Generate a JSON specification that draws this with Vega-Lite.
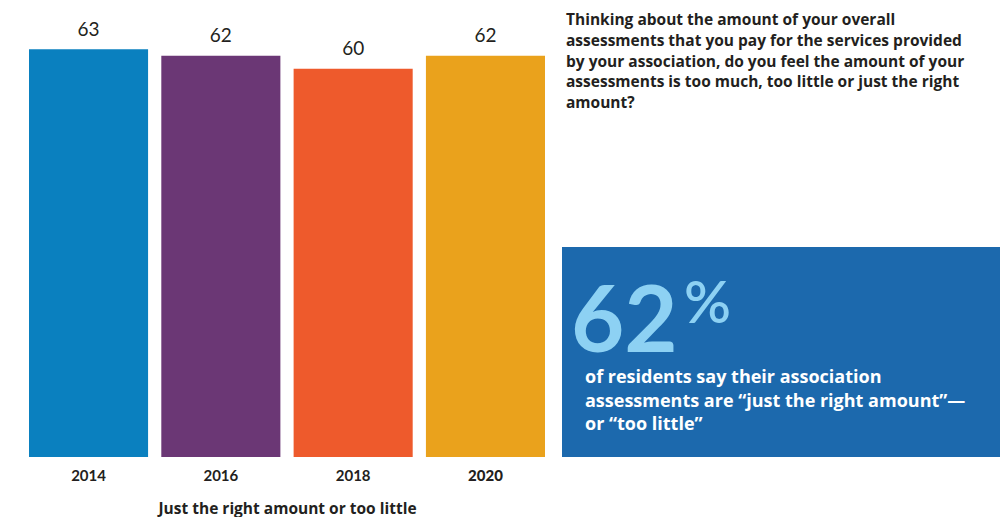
{
  "$schema": "https://vega.github.io/schema/vega-lite/v6.json",
  "background": "white",
  "padding": {"left": 29, "top": 4, "right": 0, "bottom": 0},
  "config": {"view": {"stroke": null}, "font": "Lato"},
  "data": {"values": [
    {"year": "2014", "value": 63},
    {"year": "2016", "value": 62},
    {"year": "2018", "value": 60},
    {"year": "2020", "value": 62}
  ]},
  "bounds": "flush",
  "spacing": 17,
  "hconcat": [
    {
      "width": 516,
      "height": 453,
      "layer": [
        {
          "mark": {"type": "bar"},
          "encoding": {
            "x": {
              "field": "year", "type": "ordinal",
              "scale": {"paddingInner": 0.1, "paddingOuter": 0},
              "axis": {
                "title": "Just the right amount or too little",
                "labelAngle": 0, "domain": false, "ticks": false,
                "labelFont": "Lato", "labelFontSize": 15,
                "labelFontWeight": {"condition": {"test": "datum.value == '2020'", "value": 900}, "value": "bold"},
                "labelColor": "#231f20", "labelPadding": 11,
                "titleFont": "Open Sans", "titleFontSize": 15.5, "titleFontWeight": "bold",
                "titleColor": "#231f20", "titlePadding": 18
              }
            },
            "y": {"field": "value", "type": "quantitative", "scale": {"domain": [0, 70], "nice": false}, "axis": null},
            "color": {
              "field": "year", "type": "nominal",
              "scale": {"domain": ["2014", "2016", "2018", "2020"], "range": ["#0a80bf", "#6b3775", "#ee5a2c", "#eaa21c"]},
              "legend": null
            }
          }
        },
        {
          "mark": {"type": "text", "baseline": "alphabetic", "dy": -13.5, "fontSize": 19, "font": "Lato", "color": "#231f20"},
          "encoding": {
            "x": {"field": "year", "type": "ordinal"},
            "y": {"field": "value", "type": "quantitative"},
            "text": {"field": "value", "type": "quantitative"}
          }
        }
      ]
    },
    {
      "bounds": "flush",
      "spacing": 118,
      "vconcat": [
        {
          "width": 438,
          "height": 125,
          "transform": [{"filter": "datum.year == '2020'"}],
          "mark": {
            "type": "text", "align": "left", "baseline": "alphabetic",
            "x": 4, "y": 21, "lineHeight": 20.8,
            "fontSize": 15.5, "fontWeight": "bold", "font": "Open Sans", "color": "#231f20",
            "text": [
              "Thinking about the amount of your overall",
              "assessments that you pay for the services provided",
              "by your association, do you feel the amount of your",
              "assessments is too much, too little or just the right",
              "amount?"
            ]
          }
        },
        {
          "width": 438,
          "height": 210,
          "view": {"fill": "#1c69ad", "stroke": null},
          "transform": [{"filter": "datum.year == '2020'"}],
          "layer": [
            {
              "mark": {"type": "text", "align": "left", "baseline": "alphabetic", "x": 9, "y": 105, "fontSize": 92, "fontWeight": "bold", "font": "Lato", "color": "#8dd1f3"},
              "encoding": {"text": {"field": "value", "type": "quantitative"}}
            },
            {
              "mark": {"type": "text", "align": "left", "baseline": "alphabetic", "x": 122, "y": 76, "fontSize": 58, "fontWeight": 600, "font": "Lato", "color": "#8dd1f3", "text": "%"}
            },
            {
              "mark": {
                "type": "text", "align": "left", "baseline": "alphabetic",
                "x": 23, "y": 136, "lineHeight": 23.7,
                "fontSize": 18, "fontWeight": "bold", "font": "Open Sans", "color": "#ffffff",
                "text": [
                  "of residents say their association",
                  "assessments are “just the right amount”—",
                  "or “too little”"
                ]
              }
            }
          ]
        }
      ]
    }
  ]
}
